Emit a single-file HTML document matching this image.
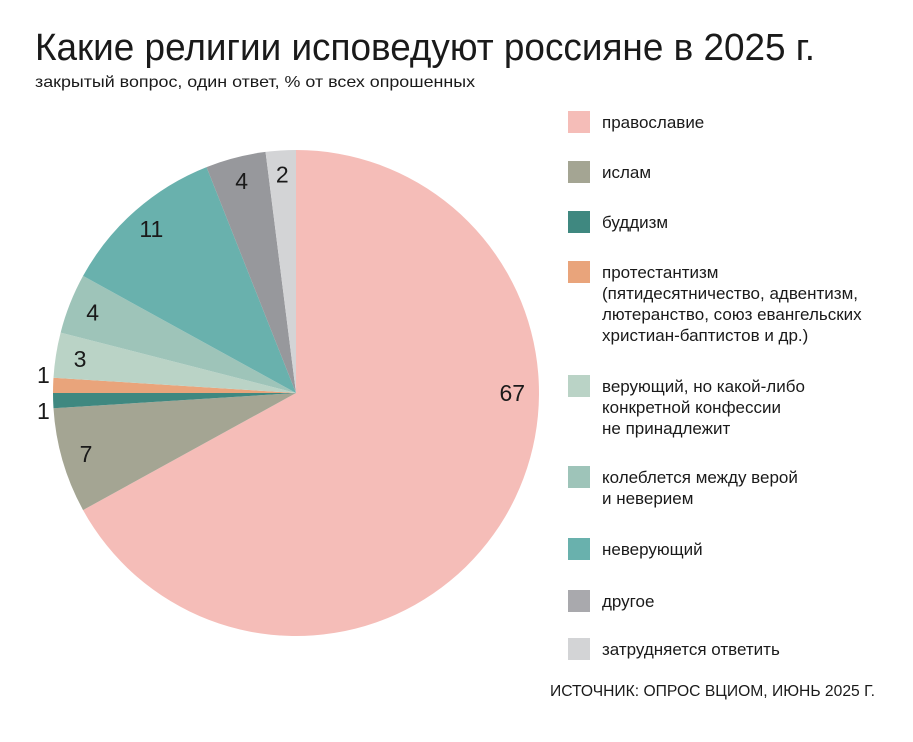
<!DOCTYPE html>
<html><head><meta charset="utf-8"><style>
html,body{margin:0;padding:0;background:#fff;}
svg text{font-family:"Liberation Sans","DejaVu Sans",sans-serif;fill:#1a1a1a;}
</style></head><body>
<svg id="chart" width="913" height="737" viewBox="0 0 913 737" xmlns="http://www.w3.org/2000/svg">
<text x="35" y="60" font-size="38" font-weight="300" textLength="780" lengthAdjust="spacingAndGlyphs">Какие религии исповедуют россияне в 2025 г.</text>
<text x="35" y="87" font-size="16" textLength="440" lengthAdjust="spacingAndGlyphs">закрытый вопрос, один ответ, % от всех опрошенных</text>
<g id="slices"></g>
<g id="labels"></g>
<g id="legend"></g>
<text x="875" y="696" font-size="16" text-anchor="end" textLength="325" lengthAdjust="spacingAndGlyphs">ИСТОЧНИК: ОПРОС ВЦИОМ, ИЮНЬ 2025 Г.</text>
</svg>
<script>
const categories = ["православие","ислам","буддизм","протестантизм","верующий, но какой-либо конкретной конфессии не принадлежит","колеблется между верой и неверием","неверующий","другое","затрудняется ответить"];
const values = [67,7,1,1,3,4,11,4,2];
const valueLabels = ["67","7","1","1","3","4","11","4","2"];
const legendLines = [["православие"],["ислам"],["буддизм"],["протестантизм","(пятидесятничество, адвентизм,","лютеранство, союз евангельских","христиан-баптистов и др.)"],["верующий, но какой-либо","конкретной конфессии","не принадлежит"],["колеблется между верой","и неверием"],["неверующий"],["другое"],["затрудняется ответить"]];
const colors = ["#f5bdb8","#a4a593","#3f8880","#e9a47b","#bad3c6","#9ec4b9","#69b1ad","#97989c","#d3d4d6"];
const legendColors = ["#f5bdb8","#a4a593","#3f8880","#e9a47b","#bad3c6","#9ec4b9","#69b1ad","#a9a9ad","#d3d4d6"];
const legendY = [122,172,222,272,386,477,549,601,649];
const NS="http://www.w3.org/2000/svg";
const cx=296, cy=393, R=243;
const total = values.reduce((a,b)=>a+b,0);
function pt(frac, r){const a=frac*2*Math.PI;return [cx+r*Math.sin(a), cy-r*Math.cos(a)];}
const sg=document.getElementById('slices'), lg=document.getElementById('labels');
let acc=0, tinyCount=0;
values.forEach((v,i)=>{
  const f0=acc/total, f1=(acc+v)/total; acc+=v;
  const [x0,y0]=pt(f0,R),[x1,y1]=pt(f1,R);
  const large=(f1-f0)>0.5?1:0;
  const p=document.createElementNS(NS,'path');
  p.setAttribute('d',`M${cx},${cy} L${x0},${y0} A${R},${R} 0 ${large} 1 ${x1},${y1} Z`);
  p.setAttribute('fill',colors[i]);
  
  
  sg.appendChild(p);
  const mid=(f0+f1)/2;
  let lx,ly;
  if(i===0){[lx,ly]=pt(0.25,R*0.89);}
  else if(v/total<0.02){[lx,ly]=pt(mid,R*1.04);ly+= (tinyCount===0?10:-10);tinyCount++;}
  else {[lx,ly]=pt(mid,R*0.9);}
  const t=document.createElementNS(NS,'text');
  t.setAttribute('x',lx);t.setAttribute('y',ly+8);
  t.setAttribute('text-anchor','middle');t.setAttribute('font-size','23');
  t.textContent=valueLabels[i];
  
  
  lg.appendChild(t);
});
const leg=document.getElementById('legend');
categories.forEach((c,i)=>{
  const g=document.createElementNS(NS,'g');
  
  
  const r=document.createElementNS(NS,'rect');
  r.setAttribute('x',568);r.setAttribute('y',legendY[i]-11);r.setAttribute('width',22);r.setAttribute('height',22);
  r.setAttribute('fill',legendColors[i]);
  
  
  g.appendChild(r);
  legendLines[i].forEach((ln,j)=>{
    const t=document.createElementNS(NS,'text');
    t.setAttribute('x',602);t.setAttribute('y',legendY[i]+6+j*21);t.setAttribute('font-size','17');
    t.textContent=ln;
    
    
    g.appendChild(t);
  });
  leg.appendChild(g);
});
</script>
</body></html>
